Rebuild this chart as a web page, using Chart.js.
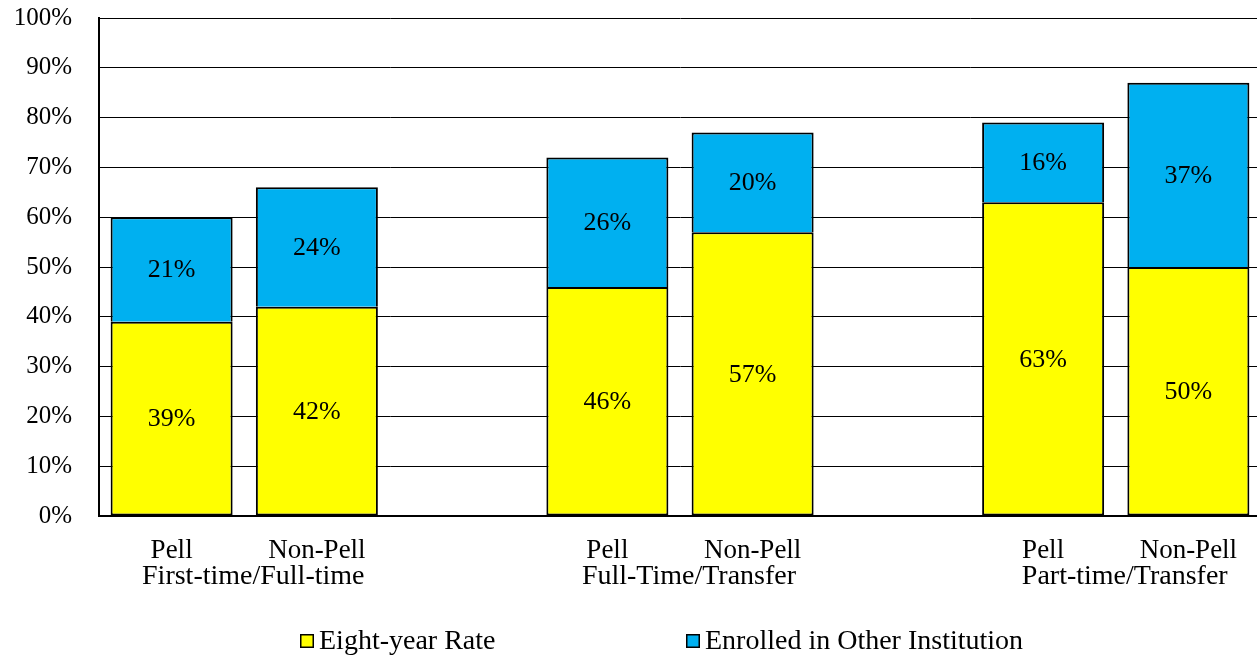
<!DOCTYPE html>
<html>
<head>
<meta charset="utf-8">
<script src="https://cdn.jsdelivr.net/npm/chart.js@4/dist/chart.umd.min.js"></script>
<style>
  html, body { margin: 0; padding: 0; background: #fff; overflow: hidden; }
  #wrap { width: 1262px; height: 656px; }
</style>
</head>
<body>
<div id="wrap"><canvas id="c" width="1262" height="656"></canvas></div>
<script>
// ---- data ----
const categories = ['Pell', 'Non-Pell', '', 'Pell', 'Non-Pell', '', 'Pell', 'Non-Pell'];
const groupLabels = ['First-time/Full-time', 'Full-Time/Transfer', 'Part-time/Transfer'];
const groupSlots = [1, 4, 7];          // boundary index between the two bars of each group
const eightYearRate = [39, 42, null, 46, 57, null, 63, 50];
const enrolledOther = [21, 24, null, 26, 20, null, 16, 37];
const seriesNames = ['Eight-year Rate', 'Enrolled in Other Institution'];
const yTicks = [0, 10, 20, 30, 40, 50, 60, 70, 80, 90, 100];

// group axis labels: one slot per category boundary (0..8)
const groupAxisLabels = Array.from({ length: categories.length + 1 }, (_, i) => {
  const k = groupSlots.indexOf(i);
  return k >= 0 ? groupLabels[k] : '';
});

const FONT = '"Liberation Serif", "Times New Roman", serif';
const YELLOW = '#FFFF00';
const BLUE = '#00B0F0';

const valueLabels = {
  id: 'valueLabels',
  afterDatasetsDraw(chart) {
    const ctx = chart.ctx;
    ctx.save();
    ctx.font = '26px ' + FONT;
    ctx.fillStyle = '#000';
    ctx.textAlign = 'center';
    ctx.textBaseline = 'middle';
    chart.data.datasets.forEach((ds, di) => {
      const meta = chart.getDatasetMeta(di);
      meta.data.forEach((bar, i) => {
        const v = ds.data[i];
        if (v === null || v === undefined) return;
        const p = bar.getProps(['x', 'y', 'base'], true);
        ctx.fillText(v + '%', p.x, (p.y + p.base) / 2 + 1);
      });
    });
    ctx.restore();
  }
};

const customLegend = {
  id: 'customLegend',
  afterDraw(chart) {
    const ctx = chart.ctx;
    const xs = [300, 686];
    const cy = 641;
    ctx.save();
    ctx.font = '28px ' + FONT;
    ctx.textAlign = 'left';
    ctx.textBaseline = 'middle';
    chart.data.datasets.forEach((ds, i) => {
      const x = xs[i];
      ctx.fillStyle = ds.backgroundColor;
      ctx.fillRect(x, cy - 7, 14, 14);
      ctx.strokeStyle = '#000';
      ctx.lineWidth = 1.5;
      ctx.strokeRect(x + 0.75, cy - 6.25, 12.5, 12.5);
      ctx.fillStyle = '#000';
      ctx.fillText(ds.label, x + 19, cy + 1);
    });
    ctx.restore();
  }
};

new Chart(document.getElementById('c'), {
  type: 'bar',
  data: {
    labels: categories,
    datasets: [
      { label: seriesNames[0], data: eightYearRate, backgroundColor: YELLOW, borderColor: '#000',
        borderWidth: { top: 2, left: 2, right: 2, bottom: 2 }, borderSkipped: false },
      { label: seriesNames[1], data: enrolledOther, backgroundColor: BLUE, borderColor: '#000',
        borderWidth: { top: 2, left: 2, right: 2, bottom: 0 }, borderSkipped: false }
    ]
  },
  options: {
    responsive: false,
    animation: false,
    events: [],
    layout: { padding: { top: 18, left: 0, right: 1, bottom: 53 } },
    datasets: { bar: { barPercentage: 0.84, categoryPercentage: 1.0 } },
    plugins: { legend: { display: false }, tooltip: { enabled: false } },
    scales: {
      x: {
        stacked: true,
        weight: 0,
        grid: { display: false, drawTicks: false },
        border: { display: true, color: '#000', width: 2 },
        ticks: {
          autoSkip: false, maxRotation: 0, minRotation: 0, padding: 21,
          color: '#000', font: { family: FONT, size: 27, lineHeight: 1 }
        },
        afterFit(s) { s.height = 47; }
      },
      x2: {
        type: 'category',
        labels: groupAxisLabels,
        position: 'bottom',
        weight: 1,
        offset: false,
        grid: { display: false, drawTicks: false, offset: false },
        border: { display: false },
        ticks: {
          autoSkip: false, maxRotation: 0, minRotation: 0, padding: 0, labelOffset: 9,
          color: '#000', font: { family: FONT, size: 28, lineHeight: 1 }
        },
        afterFit(s) { s.height = 40; }
      },
      y: {
        stacked: true,
        min: 0, max: 100,
        afterBuildTicks(s) { s.ticks = yTicks.map(v => ({ value: v })); },
        grid: { color: '#000', lineWidth: 1, drawTicks: true, tickLength: 27, tickColor: 'rgba(0,0,0,0)' },
        border: { display: true, color: '#000', width: 2 },
        ticks: {
          padding: 0, color: '#000',
          font: { family: FONT, size: 25 },
          callback: v => v + '%'
        },
        afterFit(s) { s.width = 99; }
      }
    }
  },
  plugins: [valueLabels, customLegend]
});
</script>
</body>
</html>
